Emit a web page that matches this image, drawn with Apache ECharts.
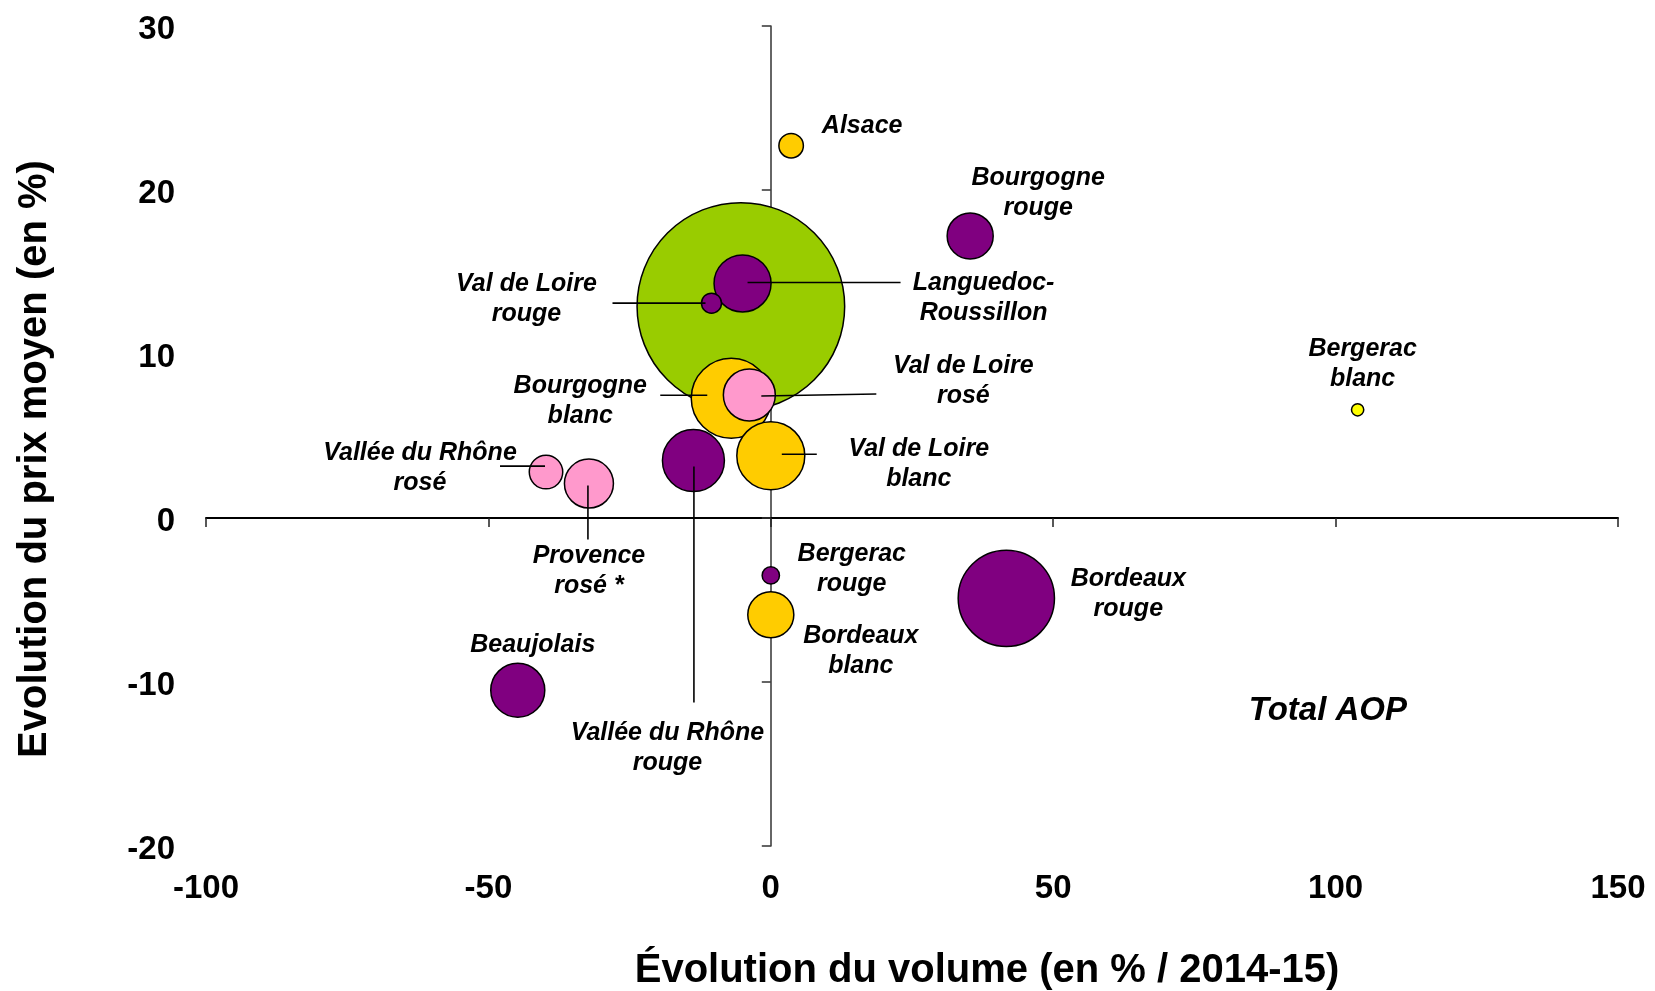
<!DOCTYPE html>
<html>
<head>
<meta charset="utf-8">
<script src="https://cdn.jsdelivr.net/npm/echarts@6/dist/echarts.min.js"></script>
<style>
  html, body { margin: 0; padding: 0; background: #fff; }
  #chart { width: 1655px; height: 991px; }
</style>
</head>
<body>
<div id="chart"></div>
<script>
// ---- Data ----
const names = ["Total AOP", "Languedoc-Roussillon", "Val de Loire rouge", "Bourgogne rouge", "Alsace",
  "Bourgogne blanc", "Val de Loire blanc", "Val de Loire rosé", "Vallée du Rhône rouge",
  "Vallée du Rhône rosé", "Provence rosé *", "Beaujolais", "Bergerac rouge", "Bordeaux blanc",
  "Bordeaux rouge", "Bergerac blanc"];
const labelTexts = ["Total AOP", "Languedoc-\nRoussillon", "Val de Loire\nrouge", "Bourgogne\nrouge", "Alsace",
  "Bourgogne\nblanc", "Val de Loire\nblanc", "Val de Loire\nrosé", "Vallée du Rhône\nrouge",
  "Vallée du Rhône\nrosé", "Provence\nrosé *", "Beaujolais", "Bergerac\nrouge", "Bordeaux\nblanc",
  "Bordeaux\nrouge", "Bergerac\nblanc"];
const volumeEvol = [-5.3, -5.0, -10.5, 35.3, 3.6, -7.0, 0.0, -3.8, -13.7, -39.8, -32.2, -44.8, 0.0, 0.0, 41.7, 103.9];
const priceEvol  = [12.9, 14.3, 13.1, 17.2, 22.7, 7.3, 3.8, 7.5, 3.5, 2.8, 2.1, -10.5, -3.5, -5.9, -4.9, 6.6];
const volumes    = [431, 32.5, 4.0, 21.2, 6.0, 64, 46.2, 27, 38.4, 11.2, 24, 29.2, 3.0, 21.2, 92.7, 1.5];
const kinds      = ["total", "rouge", "rouge", "rouge", "blanc", "blanc", "blanc", "rose", "rouge",
  "rose", "rose", "rouge", "rouge", "blanc", "rouge", "blancClair"];
const xTicks = [-100, -50, 0, 50, 100, 150];
const yTicks = [-20, -10, 0, 10, 20, 30];

// ---- Styles / layout ----
const kindColors = { total: "#99CC00", rouge: "#800080", blanc: "#FFCC00", rose: "#FF99CC", blancClair: "#FFFF00" };
const FONT = "'Liberation Sans', Arial, Helvetica, sans-serif";
// label offsets (px, relative to bubble centre) and leader lines [x1,y1,x2,y2]
const labelLayout = {
  "Total AOP": { dx: 587, dy: 404, size: 33 },
  "Languedoc-Roussillon": { dx: 241, dy: 15, line: [5, -1, 158, -1] },
  "Val de Loire rouge": { dx: -185, dy: -4, line: [-99, 0, -6, 0] },
  "Bourgogne rouge": { dx: 68, dy: -43 },
  "Alsace": { dx: 71, dy: -20 },
  "Bourgogne blanc": { dx: -151, dy: 3, line: [-71, -3, -24, -3] },
  "Val de Loire blanc": { dx: 148, dy: 8, line: [11, -1.5, 46, -1.5] },
  "Val de Loire rosé": { dx: 214, dy: -14, line: [12, 1, 127, -1] },
  "Vallée du Rhône rouge": { dx: -26, dy: 288, line: [0.5, 6, 0.5, 242] },
  "Vallée du Rhône rosé": { dx: -126, dy: -4, line: [-46, -6, -1, -6] },
  "Provence rosé *": { dx: 0, dy: 88, line: [-1, 2, -1, 56] },
  "Beaujolais": { dx: 15, dy: -45 },
  "Bergerac rouge": { dx: 81, dy: -6 },
  "Bordeaux blanc": { dx: 90, dy: 36 },
  "Bordeaux rouge": { dx: 122, dy: -4 },
  "Bergerac blanc": { dx: 5, dy: -46 }
};

const bubbleData = names.map((n, i) => ({
  name: n,
  value: [volumeEvol[i], priceEvol[i], volumes[i]],
  itemStyle: { color: kindColors[kinds[i]] }
}));
const labelData = names.map((n, i) => [volumeEvol[i], priceEvol[i], i]);

const chart = echarts.init(document.getElementById('chart'), null, { renderer: 'canvas' });
const tickLabelStyle = { fontSize: 33, fontWeight: 'bold', color: '#000', fontFamily: FONT };

chart.setOption({
  animation: false,
  backgroundColor: '#fff',
  grid: { left: 206, right: 37, top: 26, bottom: 145, containLabel: false },
  xAxis: [
    { type: 'value', min: xTicks[0], max: xTicks[xTicks.length - 1], interval: 50, position: 'bottom',
      axisLine: { show: false, onZero: false }, axisTick: { show: false }, splitLine: { show: false },
      axisLabel: Object.assign({ margin: 26 }, tickLabelStyle) },
    { type: 'value', min: xTicks[0], max: xTicks[xTicks.length - 1], interval: 50, position: 'bottom',
      axisLine: { show: true, onZero: true, onZeroAxisIndex: 0, lineStyle: { color: '#000', width: 2 } },
      axisTick: { show: true, length: 9, lineStyle: { color: '#222', width: 1.5 } },
      axisLabel: { show: false }, splitLine: { show: false } }
  ],
  yAxis: [
    { type: 'value', min: yTicks[0], max: yTicks[yTicks.length - 1], interval: 10, position: 'left',
      axisLine: { show: false, onZero: false }, axisTick: { show: false }, splitLine: { show: false },
      axisLabel: Object.assign({ margin: 31, formatter: '{v|{value}}',
        rich: { v: { fontSize: 33, fontWeight: 'bold', color: '#000', fontFamily: FONT, padding: [7, 0, 0, 0] } } }, tickLabelStyle) },
    { type: 'value', min: yTicks[0], max: yTicks[yTicks.length - 1], interval: 10, position: 'left',
      axisLine: { show: true, onZero: true, onZeroAxisIndex: 0, lineStyle: { color: '#333', width: 1.5 } },
      axisTick: { show: true, length: 9, lineStyle: { color: '#333', width: 1.5 } },
      axisLabel: { show: false }, splitLine: { show: false } }
  ],
  graphic: [
    { type: 'text', x: 987, y: 971, silent: true,
      style: { text: 'Évolution du volume (en % / 2014-15)', fill: '#000', fontSize: 40, fontWeight: 'bold',
        fontFamily: FONT, align: 'center', verticalAlign: 'middle' } },
    { type: 'text', x: 35, y: 459, rotation: Math.PI / 2, silent: true,
      style: { text: 'Evolution du prix moyen (en %)', fill: '#000', fontSize: 40, fontWeight: 'bold',
        fontFamily: FONT, align: 'center', verticalAlign: 'middle' } }
  ],
  series: [
    { type: 'scatter', xAxisIndex: 0, yAxisIndex: 0, silent: true, z: 3,
      data: bubbleData,
      symbolSize: v => 10 * Math.sqrt(v[2]),
      itemStyle: { borderColor: '#000', borderWidth: 1.5, opacity: 1 },
      emphasis: { disabled: true } },
    { type: 'custom', xAxisIndex: 0, yAxisIndex: 0, silent: true, z: 5, clip: false,
      data: labelData,
      renderItem: function (params, api) {
        const i = api.value(2);
        const c = api.coord([api.value(0), api.value(1)]);
        const L = labelLayout[names[i]];
        const children = [];
        if (L.line) {
          children.push({ type: 'line',
            shape: { x1: c[0] + L.line[0], y1: c[1] + L.line[1], x2: c[0] + L.line[2], y2: c[1] + L.line[3] },
            style: { stroke: '#000', lineWidth: 1.6 } });
        }
        const fs = L.size || 25;
        children.push({ type: 'text', x: c[0] + L.dx, y: c[1] + L.dy,
          style: { text: labelTexts[i], fill: '#000', fontSize: fs, fontWeight: 'bold', fontStyle: 'italic',
            fontFamily: FONT, align: 'center', verticalAlign: 'middle', lineHeight: Math.round(fs * 1.18) } });
        return { type: 'group', children: children };
      } }
  ]
});
</script>
</body>
</html>
